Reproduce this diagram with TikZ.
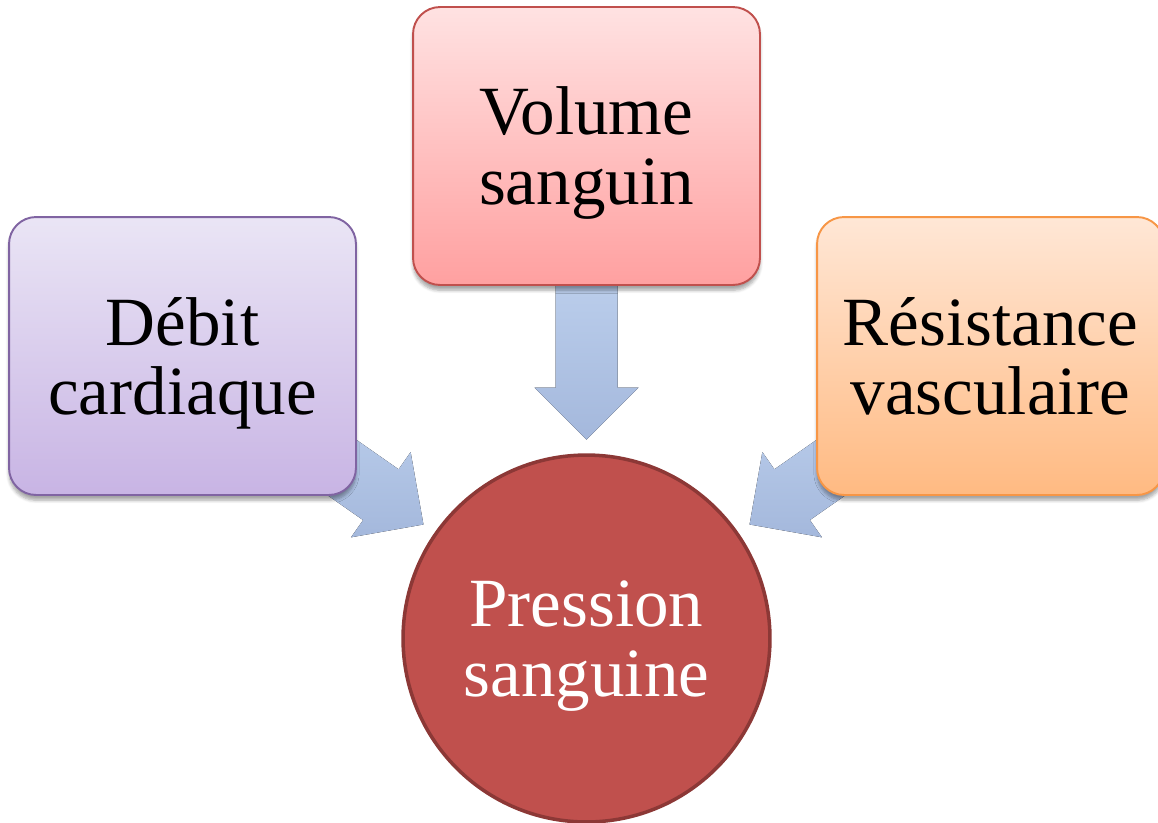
\documentclass[tikz,border=0pt]{standalone}
\usepackage{fontspec}
\setmainfont{Liberation Serif}
\usetikzlibrary{calc,backgrounds,shadows.blur}

\definecolor{volumetop}{RGB}{255,226,226}
\definecolor{volumebottom}{RGB}{255,160,160}
\definecolor{volumeline}{RGB}{192,80,77}
\definecolor{debittop}{RGB}{234,229,245}
\definecolor{debitbottom}{RGB}{200,180,228}
\definecolor{debitline}{RGB}{128,100,162}
\definecolor{resisttop}{RGB}{255,231,214}
\definecolor{resistbottom}{RGB}{255,186,130}
\definecolor{resistline}{RGB}{247,150,70}
\definecolor{pressfill}{RGB}{192,80,77}
\definecolor{pressline}{RGB}{140,56,54}
\definecolor{arrowtop}{RGB}{186,205,235}
\definecolor{arrowbottom}{RGB}{164,184,220}

\tikzset{
  factor/.style={rectangle, rounded corners=0.54cm, minimum width=6.94cm,
    minimum height=5.56cm, line width=1.1pt, align=center, inner sep=0pt,
    text depth=0pt, font=\fontsize{39.3}{39.8}\selectfont,
    blur shadow={shadow xshift=0pt, shadow yshift=-3pt, shadow blur steps=6, shadow opacity=35}},
  flow/.style={top color=arrowtop, bottom color=arrowbottom}
}

% block arrow from box #1 towards circle #2
\newcommand{\flowarrow}[2]{%
  \path ($(#2)!7.06cm!(#1)$) coordinate (s) ($(#2)!3.98cm!(#1)$) coordinate (t)
        ($(t)!1.04cm!(s)$) coordinate (h);
  \fill[flow] ($(s)!0.62cm!90:(t)$) -- ($(h)!0.62cm!-90:(s)$) -- ($(h)!1.04cm!-90:(s)$)
    -- (t) -- ($(h)!1.04cm!90:(s)$) -- ($(h)!0.62cm!90:(s)$) -- ($(s)!0.62cm!-90:(t)$) -- cycle;
}

\begin{document}
\begin{tikzpicture}[x=0.02cm, y=-0.02cm]
  \useasboundingbox (0,0) rectangle (1158,822);
  \clip (0,0) rectangle (1158,822);

  \node[factor, draw=volumeline, top color=volumetop, bottom color=volumebottom]
    (volume) at (586.5,146) {Volume\\sanguin};
  \node[factor, draw=debitline, top color=debittop, bottom color=debitbottom]
    (debit) at (182.5,356) {Débit\\cardiaque};
  \node[factor, draw=resistline, top color=resisttop, bottom color=resistbottom]
    (resist) at (990.5,356) {Résistance\\vasculaire};

  \node[circle, minimum size=7.34cm, inner sep=0pt, fill=pressfill, draw=pressline,
    line width=2pt, text=white, align=center, text depth=0pt,
    font=\fontsize{39.3}{39.8}\selectfont]
    (pression) at (586.5,638.5) {Pression\\sanguine};

  \begin{scope}[on background layer]
    \flowarrow{volume}{pression}
    \flowarrow{debit}{pression}
    \flowarrow{resist}{pression}
  \end{scope}
\end{tikzpicture}
\end{document}
